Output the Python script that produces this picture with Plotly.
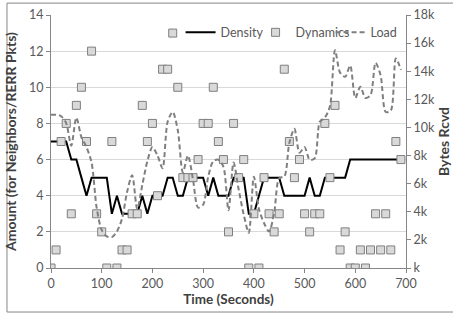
import plotly.graph_objects as go

time_s = [0, 10, 20, 30, 40, 50, 60, 70, 80, 90,
          100, 110, 120, 130, 140, 150, 160, 170, 180, 190,
          200, 210, 220, 230, 240, 250, 260, 270, 280, 290,
          300, 310, 320, 330, 340, 350, 360, 370, 380, 390,
          400, 410, 420, 430, 440, 450, 460, 470, 480, 490,
          500, 510, 520, 530, 540, 550, 560, 570, 580, 590,
          600, 610, 620, 630, 640, 650, 660, 670, 680, 690]

density = [7, 7, 7, 7, 6, 6, 5, 4, 5, 5,
           5, 5, 3, 4, 3, 3, 3, 3, 4, 3,
           4, 4, 4, 5, 5, 4, 4, 5, 5, 5,
           5, 4, 5, 4, 4, 4, 5, 5, 5, 3,
           3, 4, 5, 5, 5, 5, 4, 4, 4, 4,
           4, 5, 4, 4, 5, 5, 5, 5, 5, 6,
           6, 6, 6, 6, 6, 6, 6, 6, 6, 6]

dynamics = [0, 1, 7, 8, 3, 9, 10, 7, 12, 3,
            2, 0, 7, 0, 1, 1, 3, 3, 9, 7,
            8, 4, 11, 11, 13, 10, 5, 5, 5, 6,
            8, 8, 10, 7, 6, 2, 8, 5, 6, 0,
            3, 0, 5, 3, 2, 3, 11, 7, 5, 6,
            3, 2, 3, 3, 8, 5, 9, 1, 2, 0,
            0, 1, 0, 1, 3, 1, 3, 1, 7, 6]

load_bytes = [10900, 10900, 10800, 10300, 8700, 10700, 9300, 8600, 7500, 4300,
              2700, 2250, 2200, 2600, 3500, 5400, 6600, 4200, 5900, 7600,
              8600, 8000, 7100, 10400, 11100, 9800, 6800, 8000, 6300, 4300,
              4500, 6500, 7600, 7700, 7200, 4100, 7500, 5600, 3800, 2500,
              6500, 4200, 3200, 2600, 3900, 6400, 6500, 8900, 9900, 8200,
              8600, 7700, 7800, 10400, 10700, 11500, 15500, 13900, 13600, 14400,
              12100, 12900, 12100, 12300, 14600, 13700, 11100, 11200, 14900, 14100]

x_ticks = [0, 100, 200, 300, 400, 500, 600, 700]
y_ticks = [0, 2, 4, 6, 8, 10, 12, 14]
y2_tickvals = [0, 2000, 4000, 6000, 8000, 10000, 12000, 14000, 16000, 18000]
y2_ticktext = ["k", "2k", "4k", "6k", "8k", "10k", "12k", "14k", "16k", "18k"]

FONT = "Lato"
TICK_COLOR = "#595959"
TITLE_COLOR = "#404040"
AXIS_LINE = "#868686"
GRID = "#d9d9d9"

fig = go.Figure()
fig.add_trace(go.Scatter(
    x=time_s, y=density, name="Density", mode="lines",
    line=dict(color="#000000", width=2),
))
fig.add_trace(go.Scatter(
    x=time_s, y=dynamics, name="Dynamics", mode="markers",
    marker=dict(symbol="square", size=8, color="#d9d9d9",
                line=dict(color="#7f7f7f", width=1)),
))
fig.add_trace(go.Scatter(
    x=time_s, y=load_bytes, name="Load", mode="lines", yaxis="y2",
    line=dict(color="#7f7f7f", width=2, dash="5px,3px", shape="spline", smoothing=0.8),
))

fig.update_layout(
    width=453, height=314,
    margin=dict(l=51, r=47, t=15, b=46, autoexpand=False),
    paper_bgcolor="white", plot_bgcolor="white",
    font=dict(family=FONT, size=12, color=TICK_COLOR),
    showlegend=True,
    legend=dict(orientation="h", x=0.365, xanchor="left", y=0.93, yanchor="middle",
                bgcolor="rgba(255,255,255,0)", font=dict(family=FONT, size=12.5, color=TICK_COLOR),
                itemwidth=30, entrywidth=30, entrywidthmode="pixels", tracegroupgap=0),
    xaxis=dict(range=[0, 700], tickvals=x_ticks, showgrid=False, zeroline=False, automargin=False,
               showline=True, linecolor=AXIS_LINE, linewidth=1,
               ticks="outside", ticklen=4, tickcolor=AXIS_LINE,
               tickfont=dict(family=FONT, size=12.5, color=TICK_COLOR),
               title=dict(text="<b>Time (Seconds)</b>", standoff=0,
                          font=dict(family=FONT, size=13.5, color=TITLE_COLOR))),
    yaxis=dict(range=[0, 14], tickvals=y_ticks, showgrid=True, gridcolor=GRID, gridwidth=1,
               zeroline=False, automargin=False, showline=True, linecolor=AXIS_LINE, linewidth=1,
               ticks="outside", ticklen=4, tickcolor=AXIS_LINE,
               tickfont=dict(family=FONT, size=12.5, color=TICK_COLOR),
               title=dict(text="<b>Amount (for Neighbors/RERR Pkts)</b>", standoff=9,
                          font=dict(family=FONT, size=14, color=TITLE_COLOR))),
    yaxis2=dict(range=[0, 18000], tickvals=y2_tickvals, ticktext=y2_ticktext,
                overlaying="y", side="right", showgrid=False, zeroline=False, automargin=False,
                showline=True, linecolor=AXIS_LINE, linewidth=1,
                ticks="outside", ticklen=4, tickcolor=AXIS_LINE,
                tickfont=dict(family=FONT, size=12.5, color=TICK_COLOR),
                title=dict(text="<b>Bytes Rcvd</b>", standoff=3,
                           font=dict(family=FONT, size=14, color=TITLE_COLOR))),
    shapes=[dict(type="rect", xref="paper", yref="paper",
                 x0=-0.124, x1=1.3, y0=-0.174, y1=1.047,
                 line=dict(color="#868686", width=1), fillcolor="rgba(0,0,0,0)", layer="below")],
)

fig.write_html("out.html", config={"displayModeBar": False},
               post_script="document.body.style.margin='0';document.body.style.padding='0';")
